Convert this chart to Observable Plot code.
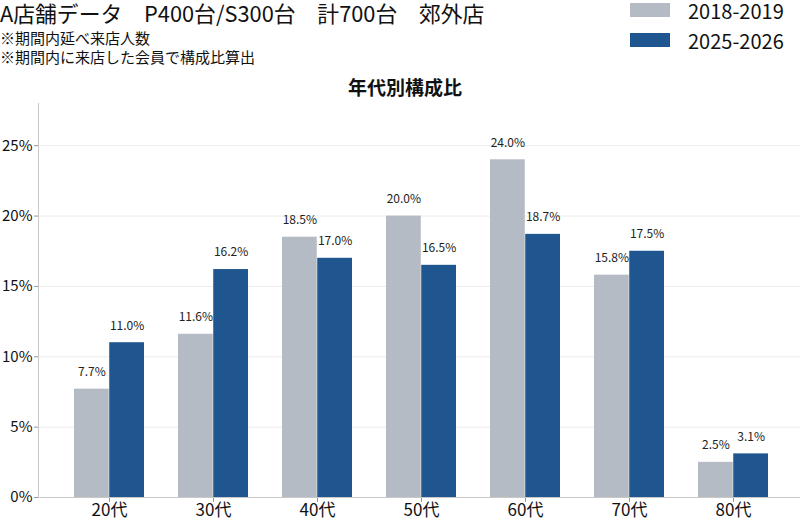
<!DOCTYPE html>
<html>
<head>
<meta charset="utf-8">
<script src="https://cdn.jsdelivr.net/npm/d3@7"></script>
<script src="https://cdn.jsdelivr.net/npm/@observablehq/plot@0.6"></script>
<style>
  html, body { margin: 0; padding: 0; background: #fff; }
  body { font-family: "Noto Sans CJK JP", "Noto Sans", sans-serif; color: #111; }
  #wrap { position: relative; width: 800px; height: 520px; overflow: hidden; }
  .abs { position: absolute; white-space: nowrap; }
  #title { left: 0; top: 1px; font-size: 21.8px; line-height: 24px; }
  .sub { left: 0; font-size: 15px; line-height: 18px; }
  #chartTitle { left: 405px; top: 75px; transform: translateX(-50%); font-size: 19px; font-weight: bold; line-height: 24px; }
  .sw { position: absolute; left: 630px; width: 40px; height: 14px; }
  .lg { left: 688px; font-size: 20px; line-height: 22px; }
  #chart { position: absolute; left: 0; top: 0; }
</style>
</head>
<body>
<div id="wrap">
  <div id="chart"></div>
  <div class="abs" id="title">A店舗データ　P400台/S300台　計700台　郊外店</div>
  <div class="abs sub" style="top:29px">※期間内延べ来店人数</div>
  <div class="abs sub" style="top:48px">※期間内に来店した会員で構成比算出</div>
  <div class="abs" id="chartTitle">年代別構成比</div>
  <div class="sw" id="sw0" style="top:3px"></div>
  <div class="abs lg" id="lg0" style="top:0px"></div>
  <div class="sw" id="sw1" style="top:33px"></div>
  <div class="abs lg" id="lg1" style="top:30px"></div>
</div>
<script>
// ---- data ----
const ages = ["20代", "30代", "40代", "50代", "60代", "70代", "80代"];
const seriesNames = ["2018-2019", "2025-2026"];
const values2018 = [7.7, 11.6, 18.5, 20.0, 24.0, 15.8, 2.5];
const values2025 = [11.0, 16.2, 17.0, 16.5, 18.7, 17.5, 3.1];
const yTicks = [0, 5, 10, 15, 20, 25];
const colors = ["#b5bbc5", "#20568f"];

// legend
document.getElementById("sw0").style.background = colors[0];
document.getElementById("sw1").style.background = colors[1];
document.getElementById("lg0").textContent = seriesNames[0];
document.getElementById("lg1").textContent = seriesNames[1];

const rows0 = ages.map((a, i) => ({age: a, v: values2018[i]}));
const rows1 = ages.map((a, i) => ({age: a, v: values2025[i]}));

const xRange = [38, 805];
const padIn = 0.323, padOut = 0.346;
const bw = d3.scaleBand().domain(ages).range(xRange).paddingInner(padIn).paddingOuter(padOut).bandwidth();
const half = bw / 2;

const fmt = d => d.toFixed(1) + "%";

const plot = Plot.plot({
  width: 800,
  height: 520,
  marginTop: 103,
  marginBottom: 23,
  marginLeft: 38,
  marginRight: 0,
  style: {fontFamily: "'Noto Sans CJK JP', 'Noto Sans', sans-serif", fontSize: "15px", color: "#111", background: "transparent", overflow: "visible"},
  x: {domain: ages, range: xRange, paddingInner: padIn, paddingOuter: padOut, label: null},
  y: {domain: [0, 28], label: null},
  marks: [
    Plot.gridY(yTicks.filter(d => d > 0), {stroke: "#ececec", strokeOpacity: 1}),
    Plot.barY(rows0, {x: "age", y: "v", fill: colors[0], insetLeft: 0, insetRight: half}),
    Plot.barY(rows1, {x: "age", y: "v", fill: colors[1], insetLeft: half, insetRight: 0}),
    Plot.text(rows0, {x: "age", y: "v", text: d => fmt(d.v), dx: -half / 2, dy: -17, fontSize: 12, fill: "#222"}),
    Plot.text(rows1, {x: "age", y: "v", text: d => fmt(d.v), dx: half / 2, dy: -17, fontSize: 12, fill: "#222"}),
    Plot.axisY({ticks: yTicks, tickFormat: d => d + "%", tickSize: 4, tickPadding: 2, stroke: "#999", fontSize: 15}),
    Plot.axisX({tickSize: 5, tickPadding: 1, stroke: "#999", fontSize: 17}),
    Plot.frame({anchor: "left", stroke: "#c8c8c8"}),
    Plot.frame({anchor: "bottom", stroke: "#c8c8c8"})
  ]
});
document.getElementById("chart").appendChild(plot);
</script>
</body>
</html>
